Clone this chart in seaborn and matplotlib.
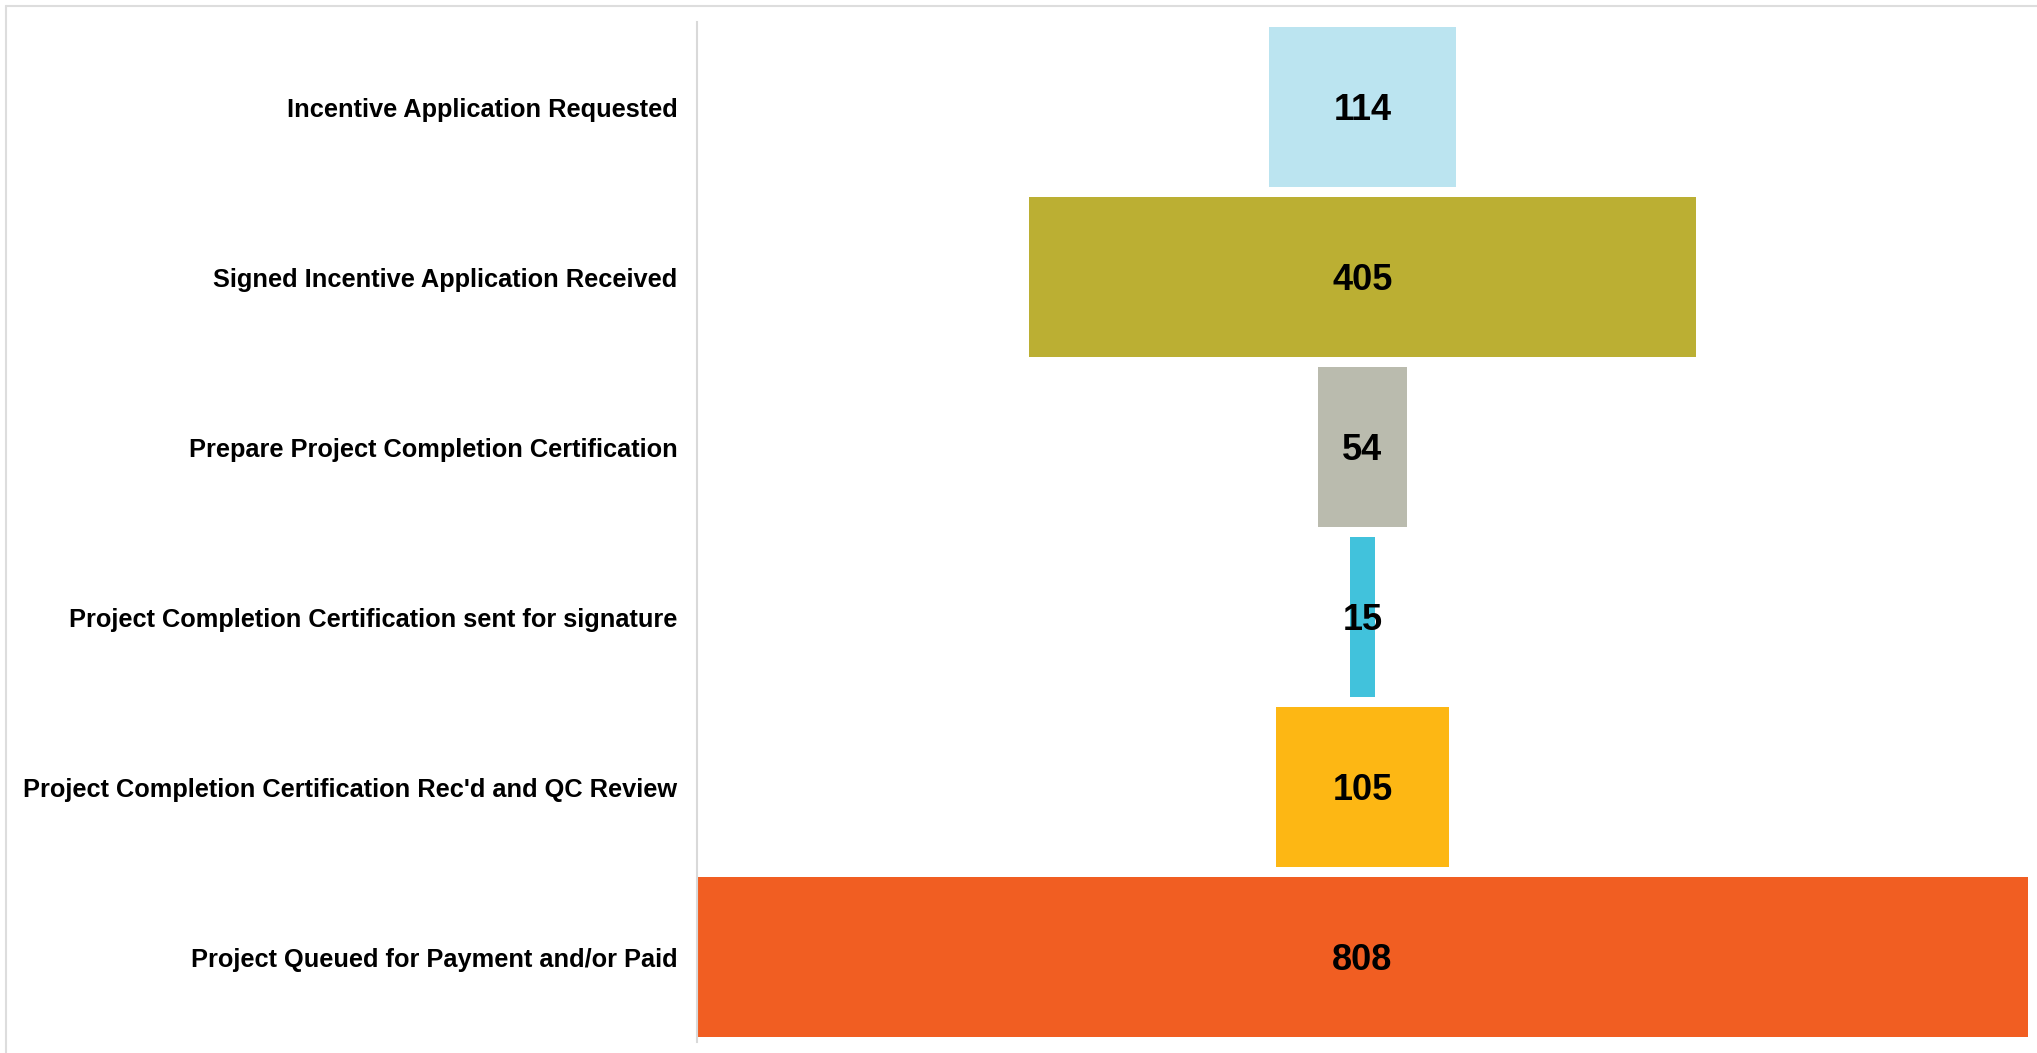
import matplotlib
matplotlib.use("Agg")
import matplotlib.pyplot as plt
from matplotlib.lines import Line2D
import seaborn as sns
import pandas as pd

stages = [
    "Incentive Application Requested",
    "Signed Incentive Application Received",
    "Prepare Project Completion Certification",
    "Project Completion Certification sent for signature",
    "Project Completion Certification Rec'd and QC Review",
    "Project Queued for Payment and/or Paid",
]
counts = [114, 405, 54, 15, 105, 808]
colors = ["#BBE4F0", "#BBAF33", "#BABBAE", "#41C2DC", "#FDB714", "#F15E22"]

df = pd.DataFrame({"stage": stages, "count": counts})

sns.set_theme(style="white")
plt.rcParams["font.family"] = ["Liberation Sans", "DejaVu Sans"]

W, H = 2037, 1053
fig = plt.figure(figsize=(W / 100, H / 100), dpi=100)
ax = fig.add_axes([697 / W, 1 - 1042 / H, (2028 - 697) / W, (1042 - 22) / H])

sns.barplot(data=df, x="count", y="stage", hue="stage", palette=colors,
            legend=False, width=0.94, orient="y", ax=ax, saturation=1)

# center the bars to form a funnel
for p in ax.patches:
    w = p.get_width()
    p.set_x(-w / 2)
    p.set_linewidth(0)

m = max(counts) / 2
ax.set_xlim(-m, m)
ax.set_ylim(5.5, -0.5)

for c in ax.containers:
    texts = ax.bar_label(c, labels=[f"{int(v)}" for v in c.datavalues],
                         label_type="center", fontsize=26, fontweight="bold",
                         color="black")
    for t in texts:
        t.set_verticalalignment("center_baseline")

ax.set_xlabel("")
ax.set_ylabel("")
ax.set_xticks([])
ax.tick_params(axis="y", length=0, pad=14)
for t in ax.get_yticklabels():
    t.set_fontweight("bold")
    t.set_fontsize(18.3)
    t.set_color("black")

for s in ["top", "right", "bottom"]:
    ax.spines[s].set_visible(False)
ax.spines["left"].set_color("#D9D9D9")
ax.spines["left"].set_linewidth(1.5)

# outer frame (top and left)
fig.add_artist(Line2D([5.5 / W, 1.0], [1 - 5.5 / H, 1 - 5.5 / H],
                      transform=fig.transFigure, color="#DDDDDD", lw=1.5))
fig.add_artist(Line2D([5.5 / W, 5.5 / W], [0, 1 - 5.5 / H],
                      transform=fig.transFigure, color="#DDDDDD", lw=1.5))

fig.savefig("out.png", dpi=100, facecolor="white")
